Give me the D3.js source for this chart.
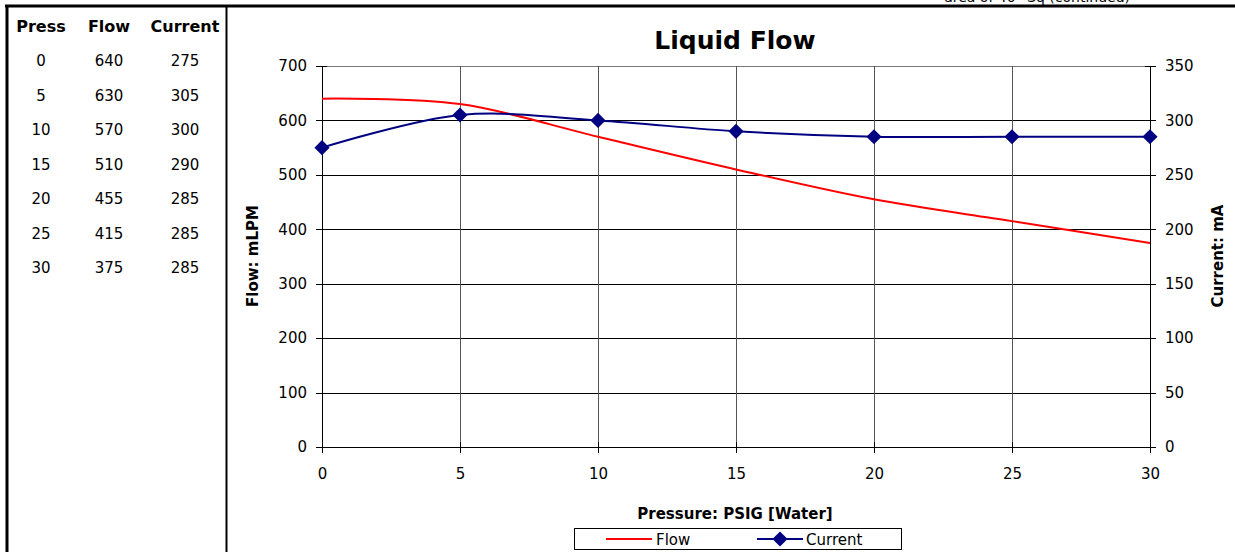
<!doctype html>
<html>
<head>
<meta charset="UTF-8">
<title>Liquid Flow</title>
<script src="https://d3js.org/d3.v7.min.js"></script>
<style>
  body { margin: 0; background: #fff; }
  svg text { font-family: "DejaVu Sans", Verdana, sans-serif; }
</style>
</head>
<body>
<svg width="1235" height="552" id="svg2"></svg>
<script>
var press = [0, 5, 10, 15, 20, 25, 30];
var flow = [640, 630, 570, 510, 455, 415, 375];
var current = [275, 305, 300, 290, 285, 285, 285];
var headers = ["Press", "Flow", "Current"];
var flowTicks = [0, 100, 200, 300, 400, 500, 600, 700];
var currentTicks = [0, 50, 100, 150, 200, 250, 300, 350];
var pressTicks = [0, 5, 10, 15, 20, 25, 30];

var svg = d3.select("#svg2");
var fontSize = 15;

// page frame lines
svg.append("text").attr("x", 1130).attr("y", 2).attr("text-anchor", "end")
  .attr("font-size", 14).text("area of 40\u00b0 Sq (continued)");
svg.append("line").attr("x1", 5).attr("x2", 1235).attr("y1", 6).attr("y2", 6)
  .attr("stroke", "#000").attr("stroke-width", 3);
svg.append("line").attr("x1", 7).attr("x2", 7).attr("y1", 5).attr("y2", 552)
  .attr("stroke", "#000").attr("stroke-width", 3);
svg.append("line").attr("x1", 226.5).attr("x2", 226.5).attr("y1", 5).attr("y2", 552)
  .attr("stroke", "#000").attr("stroke-width", 2);

// table on the left
var colX = [41, 109, 185];
var table = svg.append("g");
table.selectAll("text.head").data(headers).enter().append("text")
  .attr("class", "head")
  .attr("x", function(d, i){ return colX[i]; })
  .attr("y", 32)
  .attr("text-anchor", "middle")
  .attr("font-size", 16).attr("font-weight", "bold")
  .text(function(d){ return d; });
var rows = press.map(function(p, i){ return [p, flow[i], current[i]]; });
var rowY = d3.scaleLinear().domain([0, 6]).range([66, 273]);
rows.forEach(function(r, j){
  table.selectAll("text.r" + j).data(r).enter().append("text")
    .attr("x", function(d, i){ return colX[i]; })
    .attr("y", rowY(j))
    .attr("text-anchor", "middle")
    .attr("font-size", fontSize)
    .text(function(d){ return d; });
});

// chart
var plotL = 322, plotR = 1150, plotT = 66, plotB = 447;
var x = d3.scaleLinear().domain([0, 30]).range([plotL, plotR]);
var yFlow = d3.scaleLinear().domain([0, 700]).range([plotB, plotT]);
var yCur = d3.scaleLinear().domain([0, 350]).range([plotB, plotT]);

// grid
svg.append("g").selectAll("line").data(flowTicks).enter().append("line")
  .attr("x1", plotL).attr("x2", plotR)
  .attr("y1", function(d){ return Math.round(yFlow(d)) + 0.5; })
  .attr("y2", function(d){ return Math.round(yFlow(d)) + 0.5; })
  .attr("stroke", function(d){ return d === 700 ? "#777" : "#000"; }).attr("stroke-width", 1);
svg.append("g").selectAll("line").data(pressTicks).enter().append("line")
  .attr("y1", plotT).attr("y2", plotB)
  .attr("x1", function(d){ return Math.round(x(d)) + 0.5; })
  .attr("x2", function(d){ return Math.round(x(d)) + 0.5; })
  .attr("stroke", "#555").attr("stroke-width", 1);

// axes (ticks crossing the axis line)
function styleAxis(g){
  g.select(".domain").remove();
  g.selectAll("text").attr("font-size", fontSize).attr("fill", "#000")
    .style("font-family", "\"DejaVu Sans\", Verdana, sans-serif");
  g.selectAll("line").attr("stroke", "#000").attr("shape-rendering", "crispEdges");
}
var ax = svg.append("g").attr("transform", "translate(0," + plotB + ")")
  .call(d3.axisBottom(x).tickValues(pressTicks).tickSize(6).tickPadding(15))
  .call(styleAxis);
ax.selectAll(".tick line").attr("y1", -5);
var ayL = svg.append("g").attr("transform", "translate(" + plotL + ",0)")
  .call(d3.axisLeft(yFlow).tickValues(flowTicks).tickSize(6).tickPadding(9))
  .call(styleAxis);
ayL.selectAll(".tick line").attr("x1", 5);
var ayR = svg.append("g").attr("transform", "translate(" + plotR + ",0)")
  .call(d3.axisRight(yCur).tickValues(currentTicks).tickSize(6).tickPadding(9))
  .call(styleAxis);
ayR.selectAll(".tick line").attr("x1", -5);
svg.append("line").attr("x1", plotL + 0.5).attr("x2", plotL + 0.5).attr("y1", plotT).attr("y2", plotB + 6)
  .attr("stroke", "#000");
svg.append("line").attr("x1", plotR + 0.5).attr("x2", plotR + 0.5).attr("y1", plotT).attr("y2", plotB + 6)
  .attr("stroke", "#000");
svg.append("line").attr("x1", plotL).attr("x2", plotR).attr("y1", plotB + 0.5).attr("y2", plotB + 0.5)
  .attr("stroke", "#000");

// series (Excel-style smoothed lines)
var smooth = d3.curveCardinal.tension(0);
var flowLine = d3.line().x(function(d, i){ return x(press[i]); }).y(function(d){ return yFlow(d); }).curve(smooth);
var curLine = d3.line().x(function(d, i){ return x(press[i]); }).y(function(d){ return yCur(d); }).curve(smooth);
svg.append("path").attr("d", flowLine(flow)).attr("fill", "none").attr("stroke", "#ff0000").attr("stroke-width", 2);
svg.append("path").attr("d", curLine(current)).attr("fill", "none").attr("stroke", "#000080").attr("stroke-width", 2);
// Excel diamond: a square turned 45 degrees
var diamond = d3.symbol().type(d3.symbolSquare).size(115);
svg.append("g").selectAll("path").data(current).enter().append("path")
  .attr("d", diamond)
  .attr("transform", function(d, i){ return "translate(" + x(press[i]) + "," + yCur(d) + ") rotate(45)"; })
  .attr("fill", "#000080");

// titles
svg.append("text").attr("x", 735).attr("y", 49).attr("text-anchor", "middle")
  .attr("font-size", 25).attr("font-weight", "bold").text("Liquid Flow");
svg.append("text").attr("transform", "translate(258,256) rotate(-90)").attr("text-anchor", "middle")
  .attr("font-size", 15).attr("font-weight", "bold").text("Flow: mLPM");
svg.append("text").attr("transform", "translate(1223,256) rotate(-90)").attr("text-anchor", "middle")
  .attr("font-size", 15).attr("font-weight", "bold").text("Current: mA");
svg.append("text").attr("x", 735).attr("y", 519).attr("text-anchor", "middle")
  .attr("font-size", 15).attr("font-weight", "bold").text("Pressure: PSIG [Water]");

// legend
var lg = svg.append("g");
lg.append("rect").attr("x", 574.5).attr("y", 528.5).attr("width", 327).attr("height", 21)
  .attr("fill", "#fff").attr("stroke", "#000");
lg.append("line").attr("x1", 606).attr("x2", 652).attr("y1", 539).attr("y2", 539)
  .attr("stroke", "#ff0000").attr("stroke-width", 2);
lg.append("text").attr("x", 656).attr("y", 545).attr("font-size", fontSize).text("Flow");
lg.append("line").attr("x1", 757).attr("x2", 803).attr("y1", 539).attr("y2", 539)
  .attr("stroke", "#000080").attr("stroke-width", 2);
lg.append("path").attr("d", diamond).attr("transform", "translate(780,539) rotate(45)").attr("fill", "#000080");
lg.append("text").attr("x", 806).attr("y", 545).attr("font-size", fontSize).text("Current");
</script>
</body>
</html>
